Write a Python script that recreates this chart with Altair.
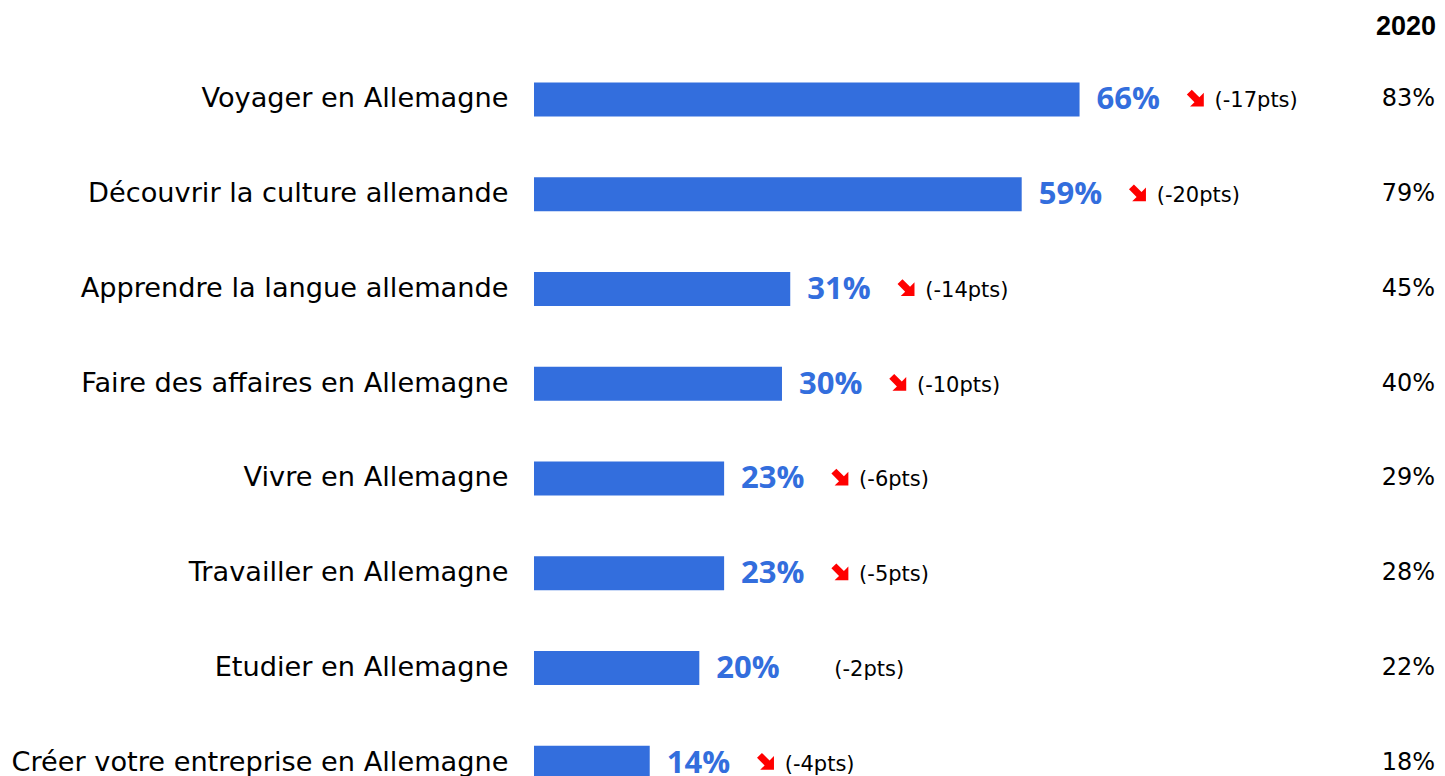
import altair as alt
import pandas as pd

categories = [
    "Voyager en Allemagne",
    "Découvrir la culture allemande",
    "Apprendre la langue allemande",
    "Faire des affaires en Allemagne",
    "Vivre en Allemagne",
    "Travailler en Allemagne",
    "Etudier en Allemagne",
    "Créer votre entreprise en Allemagne",
]
values_now = [66, 59, 31, 30, 23, 23, 20, 14]
values_2020 = [83, 79, 45, 40, 29, 28, 22, 18]
deltas = ["(-17pts)", "(-20pts)", "(-14pts)", "(-10pts)", "(-6pts)", "(-5pts)", "(-2pts)", "(-4pts)"]
has_arrow = [True, True, True, True, True, True, False, True]
header = ["2020"]

BLUE = "#336EDD"
RED = "#FF0000"
FONT = "DejaVu Sans"
XMAX = 109
W = 901
ARROW_PX = 117  # pixel gap from bar end to arrow centre

df = pd.DataFrame({
    "cat": categories,
    "v": values_now,
    "v20": values_2020,
    "delta": deltas,
    "arrow": has_arrow,
})
df["vlabel"] = df["v"].astype(str) + "%"
df["v20label"] = df["v20"].astype(str) + "%"
df["right"] = XMAX

xs = alt.Scale(domain=[0, XMAX], nice=False, zero=True)
ysort = alt.Y("cat:N", sort=categories)
y = alt.Y("cat:N", sort=categories, title=None,
          axis=alt.Axis(domain=False, ticks=False, grid=False, labelFontSize=27.2,
                        labelFont=FONT, labelColor="#000000", labelPadding=26,
                        labelLimit=0))

base = alt.Chart(df)

bars = base.mark_bar(color=BLUE, size=34).encode(
    x=alt.X("v:Q", scale=xs, axis=None),
    y=y,
)

vlabels = base.mark_text(align="left", baseline="middle", dx=17, dy=1,
                         font="Open Sans", fontSize=31, fontWeight="bold", color=BLUE).encode(
    x=alt.X("v:Q", scale=xs), y=ysort, text="vlabel:N")

arrow_path = "M-1,-0.34 L0.05,-0.34 L0.05,-0.95 L1,0 L0.05,0.95 L0.05,0.34 L-1,0.34 Z"
arrows = base.transform_filter("datum.arrow").transform_calculate(
    ax=f"datum.v + {ARROW_PX} * {XMAX} / {W}"
).mark_point(
    shape=arrow_path, angle=45, filled=True, color=RED, opacity=1, size=420, strokeWidth=0
).encode(x=alt.X("ax:Q", scale=xs), y=ysort)

dlabels = base.mark_text(align="left", baseline="middle", dx=135, dy=2,
                         font=FONT, fontSize=21, color="#000000").encode(
    x=alt.X("v:Q", scale=xs), y=ysort, text="delta:N")

rlabels = base.mark_text(align="right", baseline="middle", dx=0,
                         font=FONT, fontSize=24, color="#000000").encode(
    x=alt.X("right:Q", scale=xs), y=ysort, text="v20label:N")

hdr = alt.Chart(pd.DataFrame({"t": header, "right": [XMAX]})).mark_text(
    align="right", baseline="middle", dx=1, font="Liberation Sans", fontSize=27,
    fontWeight="bold", color="#000000").encode(
    x=alt.X("right:Q", scale=xs), y=alt.value(-25), text="t:N")

chart = alt.layer(bars, vlabels, arrows, dlabels, rlabels, hdr).properties(
    width=W, height=758,
    autosize=alt.AutoSizeParams(type="none"),
    padding={"left": 526, "top": 44, "right": 2, "bottom": 0},
).configure_view(stroke=None)

chart.save("out.html", embed_options={"renderer": "svg", "actions": False})
